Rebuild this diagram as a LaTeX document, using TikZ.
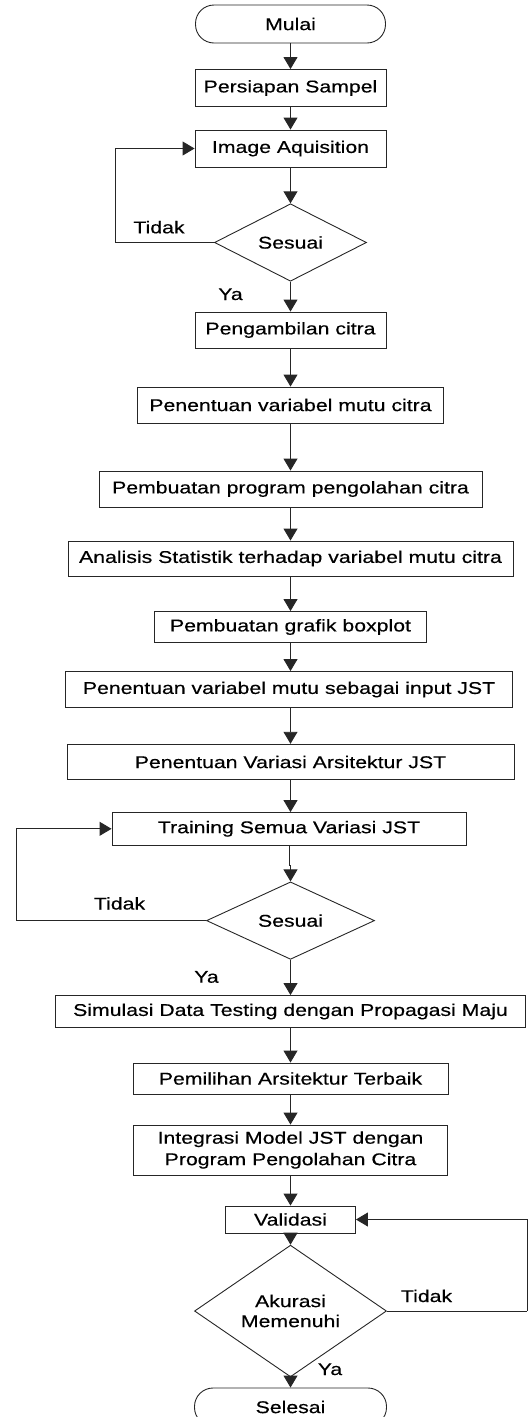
\documentclass[tikz,border=0pt]{standalone}
\usepackage{fontspec}
\setmainfont{Liberation Sans}[FakeStretch=1.25,FakeBold=0.4]
\usetikzlibrary{arrows.meta,shapes.geometric}
\begin{document}
\begin{tikzpicture}[x=1pt,y=-1pt,
  every node/.style={font=\fontsize{17}{20}\selectfont, text=black},
  proc/.style={draw=black!85, line width=0.9pt, rectangle, inner sep=0pt, align=center},
  term/.style={proc, rounded corners=18.5pt},
  dec/.style={draw=black!85, line width=0.9pt, diamond, inner sep=0pt, align=center},
  lbl/.style={anchor=base, inner sep=0pt},
  arr/.style={draw=black!85, line width=0.9pt, -{Triangle[width=14pt,length=12pt]}},
  ln/.style={draw=black!85, line width=0.9pt}]
\useasboundingbox (0,0) rectangle (528,1417);

\node[term, minimum width=190pt, minimum height=38pt] (mulai) at (290.5,24) {Mulai};
\node[proc, minimum width=191pt, minimum height=37pt] (persiapan) at (290.5,88) {Persiapan Sampel};
\node[proc, minimum width=191pt, minimum height=37pt] (imgaq) at (290.5,148.5) {Image Aquisition};
\node[dec, minimum width=152pt, minimum height=73pt] (s1) at (290.5,242.5) {Sesuai};
\node[proc, minimum width=191pt, minimum height=36pt] (ambil) at (290.5,330) {Pengambilan citra};
\node[proc, minimum width=306pt, minimum height=36pt] (penvar) at (290.5,405) {Penentuan variabel mutu citra};
\node[proc, minimum width=383pt, minimum height=36pt] (program) at (290.5,489) {Pembuatan program pengolahan citra};
\node[proc, minimum width=445pt, minimum height=35pt] (analisis) at (290.5,558.5) {Analisis Statistik terhadap variabel mutu citra};
\node[proc, minimum width=272pt, minimum height=31pt] (boxplot) at (290.5,627) {Pembuatan grafik boxplot};
\node[proc, minimum width=447pt, minimum height=36pt] (input) at (289,689.5) {Penentuan variabel mutu sebagai input JST};
\node[proc, minimum width=447pt, minimum height=35.5pt] (variasi) at (290.5,762) {Penentuan Variasi Arsitektur JST};
\node[proc, minimum width=354pt, minimum height=32.5pt] (training) at (289,828.8) {Training Semua Variasi JST};
\node[dec, minimum width=168pt, minimum height=75pt] (s2) at (290.5,920.6) {Sesuai};
\node[proc, minimum width=470pt, minimum height=32pt] (simulasi) at (290.5,1011.5) {Simulasi Data Testing dengan Propagasi Maju};
\node[proc, minimum width=315pt, minimum height=31pt] (pemilihan) at (290.5,1078.5) {Pemilihan Arsitektur Terbaik};
\node[proc, minimum width=314pt, minimum height=50pt, font=\fontsize{17}{21.5}\selectfont] (integrasi) at (290.5,1150) {Integrasi Model JST dengan\\Program Pengolahan Citra};
\node[proc, minimum width=130pt, minimum height=27pt] (validasi) at (290.5,1219.5) {Validasi};
\node[dec, minimum width=192pt, minimum height=84pt] (akurasi) at (290.5,1311) {Akurasi\\Memenuhi};
\node[term, minimum width=192pt, minimum height=38pt] (selesai) at (290.5,1407) {Selesai};

\node[lbl] (tidak1) at (159,233.3) {Tidak};
\node[lbl] (ya1) at (230.5,300) {Ya};
\node[lbl] (tidak2) at (119.5,909.5) {Tidak};
\node[lbl] (ya2) at (206.5,982.7) {Ya};
\node[lbl] (tidak3) at (426.5,1302) {Tidak};
\node[lbl] (ya3) at (330,1375) {Ya};

\coordinate (l1) at (115,242.5);
\coordinate (l2) at (16,920.6);
\coordinate (l3) at (527.3,1311);

\draw[arr] (mulai) -- (persiapan);
\draw[arr] (persiapan) -- (imgaq);
\draw[arr] (imgaq) -- (s1);
\draw[arr] (s1) -- (ambil);
\draw[arr] (ambil) -- (penvar);
\draw[arr] (penvar) -- (program);
\draw[arr] (program) -- (analisis);
\draw[arr] (analisis) -- (boxplot);
\draw[arr] (boxplot.south) -- (boxplot.south |- input.north);
\draw[arr] (input.south -| variasi) -- (variasi.north);
\draw[arr] (variasi.south) -- (variasi.south |- training.north);
\draw[arr] (training.south) -- ++(0,20) -| (s2.north);
\draw[arr] (s2) -- (simulasi);
\draw[arr] (simulasi) -- (pemilihan);
\draw[arr] (pemilihan) -- (integrasi);
\draw[arr] (integrasi) -- (validasi);
\draw[arr] (validasi) -- (akurasi);
\draw[arr] (akurasi) -- (selesai);

\draw[ln] (s1.west) -- (l1);
\draw[arr] (l1) |- (imgaq.west);
\draw[ln] (s2.west) -- (l2);
\draw[arr] (l2) |- (training.west);
\draw[ln] (akurasi.east) -- (l3);
\draw[arr] (l3) |- (validasi.east);
\end{tikzpicture}
\end{document}
